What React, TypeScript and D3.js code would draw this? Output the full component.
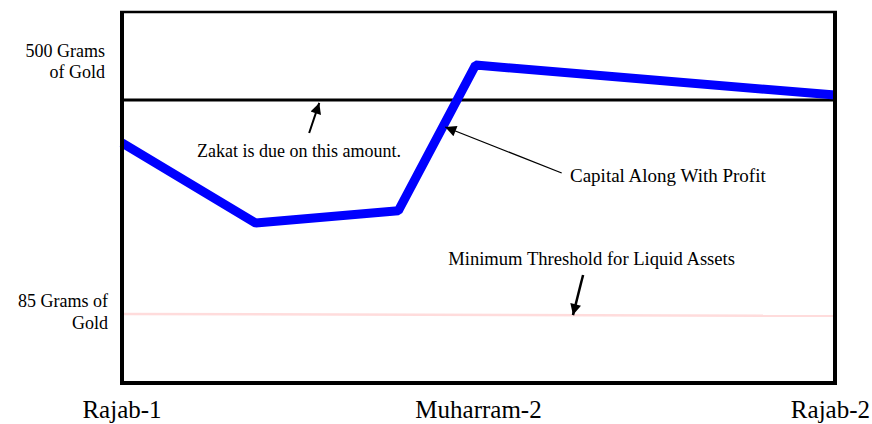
import React from 'react'
import * as d3 from 'd3'

// x in months after Rajab-1, y in a 0..100 schematic unit
const tickMonths = [0, 6, 12]
const tickLabels = ['Rajab-1', 'Muharram-2', 'Rajab-2']

const capitalMonths = [0, 2.25, 4.65, 5.95, 12]
const capitalValues = [64.7, 43.1, 46.4, 85.7, 77.6]

const zakatLevel = 76.3
const thresholdMonths = [0, 12]
const thresholdValues = [18.6, 18.1]

const yLabels = [
  {value: 76.3, lines: ['500 Grams', 'of Gold']},
  {value: 18.4, lines: ['85 Grams of', 'Gold']}
]

const notes = [
  {text: 'Zakat is due on this amount.', x: 2.98, y: 60.9, anchor: 'middle', size: 18, from: [3.15, 67.4], to: [3.32, 75.5], w: 2},
  {text: 'Capital Along With Profit', x: 7.54, y: 54.2, anchor: 'start', size: 19, from: [7.4, 56.6], to: [5.44, 69.0], w: 1.3},
  {text: 'Minimum Threshold for Liquid Assets', x: 5.49, y: 31.8, anchor: 'start', size: 18.6, from: [7.76, 29.1], to: [7.59, 18.3], w: 2.5}
]

const W = 872
const H = 424
const left = 122
const right = 835
const top = 12
const bottom = 383

const font = "'Liberation Serif', 'Times New Roman', 'DejaVu Serif', serif"

export default function App() {
  const x = d3.scaleLinear().domain([0, 12]).range([left, right])
  const y = d3.scaleLinear().domain([0, 100]).range([bottom, top])

  const line = d3
    .line<[number, number]>()
    .x(d => x(d[0]))
    .y(d => y(d[1]))

  const capital = capitalMonths.map((m, i) => [m, capitalValues[i]] as [number, number])
  const threshold = thresholdMonths.map((m, i) => [m, thresholdValues[i]] as [number, number])

  const textStyle = {fontFamily: font}

  return (
    <svg
      width={W}
      height={H}
      style={{position: 'absolute', left: 0, top: 0, background: '#fff', fontFamily: font}}
    >
      <defs>
        <marker id="head" viewBox="0 0 10 10" refX="10" refY="5" markerUnits="userSpaceOnUse" markerWidth="15" markerHeight="11" orient="auto">
          <path d="M0,0 L10,5 L0,10 Z" fill="#000" />
        </marker>
      </defs>

      {/* threshold line */}
      <path d={line(threshold) || ''} fill="none" stroke="#ffdcdc" strokeWidth={2.5} />

      {/* zakat level */}
      <line x1={x(0)} x2={x(12)} y1={y(zakatLevel)} y2={y(zakatLevel)} stroke="#000" strokeWidth={3} />

      {/* capital with profit */}
      <path
        d={line(capital) || ''}
        fill="none"
        stroke="#0000ff"
        strokeWidth={9}
        strokeLinejoin="bevel"
      />

      {/* frame */}
      <line x1={left - 2} x2={right + 2} y1={top} y2={top} stroke="#000" strokeWidth={2.5} />
      <line x1={right} x2={right} y1={top - 1} y2={bottom + 2} stroke="#000" strokeWidth={4} />
      <line x1={left} x2={left} y1={top - 1} y2={bottom + 2} stroke="#000" strokeWidth={4} />
      <line x1={left - 2} x2={right + 2} y1={bottom} y2={bottom} stroke="#000" strokeWidth={4} />

      {/* annotations */}
      {notes.map(n => (
        <g key={n.text}>
          <line
            x1={x(n.from[0])}
            y1={y(n.from[1])}
            x2={x(n.to[0])}
            y2={y(n.to[1])}
            stroke="#000"
            strokeWidth={n.w}
            markerEnd="url(#head)"
          />
          <text x={x(n.x)} y={y(n.y)} fontSize={n.size} textAnchor={n.anchor as any} fill="#000" style={textStyle}>
            {n.text}
          </text>
        </g>
      ))}

      {/* y labels */}
      {yLabels.map((l, i) => (
        <text key={i} fontSize={18} textAnchor="end" fill="#000" style={textStyle}>
          {l.lines.map((t, j) => (
            <tspan key={j} x={i === 0 ? 105 : 108} y={y(l.value) + (i === 0 ? -43 + j * 21 : -8 + j * 22)}>
              {t}
            </tspan>
          ))}
        </text>
      ))}

      {/* x tick labels, last one kept inside the page */}
      {tickMonths.map((m, i) => {
        const last = i === tickMonths.length - 1
        return (
          <text
            key={m}
            x={last ? W - 2 : x(m)}
            y={418}
            fontSize={25}
            textAnchor={last ? 'end' : 'middle'}
            fill="#000"
            style={textStyle}
          >
            {tickLabels[i]}
          </text>
        )
      })}
    </svg>
  )
}
